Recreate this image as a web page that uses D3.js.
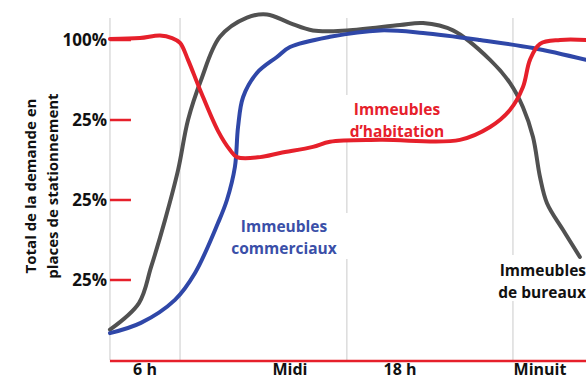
<!DOCTYPE html>
<html lang="fr">
<head>
<meta charset="UTF-8">
<title>Demande en places de stationnement</title>
<script src="https://d3js.org/d3.v7.min.js"></script>
<style>
    body { margin: 0; background: #fff; }
    svg { display: block; font-family: "Open Sans", "Noto Sans", sans-serif; font-weight: 700; }
</style>
</head>
<body>
<svg width="586" height="380"></svg>
<script>
    // x in hours of the day, y in % of demand
    const xTicks = [6, 12, 18, 24];
    const xTickLabels = ["6 h", "Midi", "18 h", "Minuit"];
    const gridHours = [4.55, 7.45, 15.1, 22.84];
    const yTicks = [100, 75, 50, 25];
    const yTickLabels = ["100%", "25%", "25%", "25%"];

    const bureauxHours = [4.55, 5.75, 6.25, 6.83, 7.37, 7.78, 8.32, 9.10, 10.22, 11.05, 12.0, 13.25, 15.11, 18.0, 18.99, 20.27, 21.86, 22.71, 23.27, 23.70, 24.0, 24.30, 24.99, 25.71];
    const bureauxValues = [9.5, 17.8, 29, 43.8, 59.4, 75, 87.5, 101, 107, 108, 105.3, 103, 103, 104.7, 105.3, 103, 93.8, 86.6, 79, 69.7, 57.2, 49, 40.6, 32.2];

    const commerciauxHours = [4.55, 5.83, 7.24, 8.07, 9.02, 9.39, 9.72, 9.85, 10.06, 10.63, 11.46, 12.0, 14.18, 16.91, 18.99, 21.43, 23.70, 25.97];
    const commerciauxValues = [8.4, 11.6, 18.8, 27.2, 42.8, 50, 60.3, 72.8, 82.2, 89.7, 94.7, 97.8, 101, 103, 102.2, 100, 97.5, 93.8];

    const habitationHours = [4.55, 5.79, 6.62, 7.12, 7.45, 7.78, 8.28, 9.02, 9.52, 9.81, 10.76, 11.59, 13.25, 14.18, 16.91, 20.57, 21.86, 22.71, 23.27, 23.57, 24.0, 24.86, 25.97];
    const habitationValues = [100.3, 100.6, 101.4, 100.6, 99.1, 93.8, 84.4, 71.6, 65.6, 63.4, 63.4, 64.7, 66.6, 68.2, 68.8, 68.8, 72.8, 78.1, 85.3, 93.8, 98.8, 100, 100];

    const colors = { bureaux: "#515151", commerciaux: "#2f47a8", habitation: "#e6202b" };

    const svg = d3.select("svg");

    const x = d3.scaleLinear().domain(xTicks).range([145, 290, 400, 540]);
    const y = d3.scaleLinear().domain([0, 100]).range([360, 40]);
    const left = x(gridHours[0]), right = 586;

    // vertical grid
    svg.append("g").selectAll("line")
        .data(gridHours)
        .join("line")
        .attr("x1", d => x(d)).attr("x2", d => x(d))
        .attr("y1", 18).attr("y2", y(0))
        .attr("stroke", "#dcdcdc")
        .attr("stroke-width", 1.5);

    // y ticks (red dashes) and labels
    svg.append("g").selectAll("line")
        .data(yTicks)
        .join("line")
        .attr("x1", left).attr("x2", left + 21)
        .attr("y1", d => y(d)).attr("y2", d => y(d))
        .attr("stroke", colors.habitation)
        .attr("stroke-width", 2.5);

    svg.append("g").selectAll("text")
        .data(yTicks)
        .join("text")
        .attr("x", left - 3)
        .attr("y", d => y(d))
        .attr("dy", "0.36em")
        .attr("text-anchor", "end")
        .style("font-size", "17px")
        .attr("fill", "#111")
        .text((d, i) => yTickLabels[i]);

    // y axis title
    const yTitle = svg.append("text")
        .attr("transform", "translate(0,186) rotate(-90)")
        .attr("text-anchor", "middle")
        .style("font-size", "15px")
        .attr("fill", "#111");
    yTitle.append("tspan").attr("x", 0).attr("y", 36).text("Total de la demande en");
    yTitle.append("tspan").attr("x", 0).attr("y", 58).text("places de stationnement");

    // bottom axis
    svg.append("line")
        .attr("x1", left).attr("x2", right)
        .attr("y1", y(0) + 1).attr("y2", y(0) + 1)
        .attr("stroke", colors.habitation)
        .attr("stroke-width", 2.5);

    svg.append("g").selectAll("text")
        .data(xTicks)
        .join("text")
        .attr("x", d => x(d))
        .attr("y", 375)
        .attr("text-anchor", "middle")
        .style("font-size", "16px")
        .attr("fill", "#111")
        .text((d, i) => xTickLabels[i]);

    // white boxes behind the series labels
    const boxes = [[220, 213, 128, 46], [345, 95, 106, 46], [496, 255, 90, 46]];
    svg.append("g").selectAll("rect")
        .data(boxes)
        .join("rect")
        .attr("x", d => d[0]).attr("y", d => d[1])
        .attr("width", d => d[2]).attr("height", d => d[3])
        .attr("fill", "#fff");

    // curves
    const line = d3.line()
        .x(d => x(d[0]))
        .y(d => y(d[1]))
        .curve(d3.curveCatmullRom.alpha(0.5));

    const series = [
        ["bureaux", bureauxHours, bureauxValues],
        ["commerciaux", commerciauxHours, commerciauxValues],
        ["habitation", habitationHours, habitationValues]
    ];

    series.forEach(([name, hrs, vals]) => {
        svg.append("path")
            .datum(hrs.map((h, i) => [h, vals[i]]))
            .attr("fill", "none")
            .attr("stroke", colors[name])
            .attr("stroke-width", 4)
            .attr("stroke-linecap", "round")
            .attr("stroke-linejoin", "round")
            .attr("d", line);
    });

    // series labels
    function label(lines, px, py, anchor, color) {
        const t = svg.append("text")
            .attr("text-anchor", anchor)
            .style("font-size", "15.5px")
            .attr("fill", color);
        lines.forEach((s, i) => {
            t.append("tspan").attr("x", px).attr("y", py + i * 22).text(s);
        });
    }
    label(["Immeubles", "d\u2019habitation"], 397, 115, "middle", colors.habitation);
    label(["Immeubles", "commerciaux"], 284, 232, "middle", "#3a4fa8");
    label(["Immeubles", "de bureaux"], 586, 276, "end", "#111");
</script>
</body>
</html>
